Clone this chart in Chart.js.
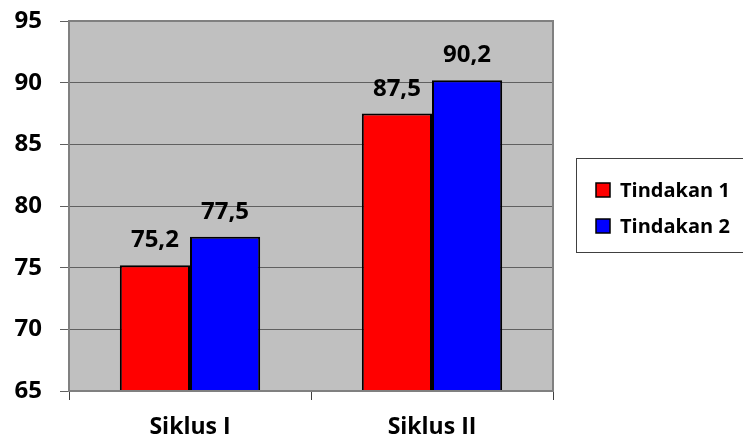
<!DOCTYPE html>
<html>
<head>
<meta charset="utf-8">
<script src="https://cdn.jsdelivr.net/npm/chart.js@4"></script>
<style>
  html, body { margin: 0; padding: 0; background: #fff; }
  #wrap { width: 743px; height: 441px; }
</style>
</head>
<body>
<div id="wrap"><canvas id="siklusChart"></canvas></div>
<script>
// data
const categories = ["Siklus I", "Siklus II"];
const tindakan1 = [75.2, 87.5];
const tindakan2 = [77.5, 90.2];
const seriesNames = ["Tindakan 1", "Tindakan 2"];
const seriesColors = ["#FF0000", "#0000FF"];
const yTicks = [65, 70, 75, 80, 85, 90, 95];

const fontFamily = "'Open Sans', sans-serif";

// gray plot area with border
const plotBackground = {
  id: "plotBackground",
  beforeDraw(chart) {
    const a = chart.chartArea, ctx = chart.ctx;
    ctx.save();
    ctx.fillStyle = "#C0C0C0";
    ctx.fillRect(a.left, a.top, a.right - a.left, a.bottom - a.top);
    ctx.restore();
  },
  afterDraw(chart) {
    const a = chart.ctx, area = chart.chartArea;
    a.save();
    a.strokeStyle = "#808080";
    a.lineWidth = 2;
    a.strokeRect(area.left, area.top, area.right - area.left, area.bottom - area.top);
    a.restore();
  }
};

// values above each bar
const valueLabels = {
  id: "valueLabels",
  afterDraw(chart) {
    const ctx = chart.ctx;
    ctx.save();
    ctx.font = "bold 24px " + fontFamily;
    ctx.fillStyle = "#000";
    ctx.textAlign = "center";
    ctx.textBaseline = "alphabetic";
    chart.data.datasets.forEach((ds, i) => {
      chart.getDatasetMeta(i).data.forEach((bar, j) => {
        ctx.fillText(String(ds.data[j]).replace(".", ","), bar.x, bar.y - 18);
      });
    });
    ctx.restore();
  }
};

// boxed legend on the right
const boxLegend = {
  id: "boxLegend",
  afterDraw(chart) {
    const ctx = chart.ctx;
    const x = 576, y = 158, w = 175, h = 94;
    ctx.save();
    ctx.fillStyle = "#fff";
    ctx.fillRect(x, y, w, h);
    ctx.strokeStyle = "#404040";
    ctx.lineWidth = 1;
    ctx.strokeRect(x + 0.5, y + 0.5, w, h);
    ctx.font = "bold 20px " + fontFamily;
    ctx.textBaseline = "middle";
    seriesNames.forEach((name, i) => {
      const cy = y + 32 + i * 36;
      ctx.fillStyle = seriesColors[i];
      ctx.fillRect(596, cy - 7, 14, 14);
      ctx.strokeStyle = "#000";
      ctx.lineWidth = 1.5;
      ctx.strokeRect(596, cy - 7, 14, 14);
      ctx.fillStyle = "#000";
      ctx.fillText(name, 620, cy + 1);
    });
    ctx.restore();
  }
};

new Chart("siklusChart", {
  type: "bar",
  data: {
    labels: categories,
    datasets: [
      { label: seriesNames[0], data: tindakan1, backgroundColor: seriesColors[0], borderColor: "#000", borderWidth: 2 },
      { label: seriesNames[1], data: tindakan2, backgroundColor: seriesColors[1], borderColor: "#000", borderWidth: 2 }
    ]
  },
  options: {
    responsive: true,
    maintainAspectRatio: false,
    animation: false,
    datasets: { bar: { categoryPercentage: 0.58, barPercentage: 1 } },
    layout: { padding: { top: 0, right: 190, left: 0, bottom: 0 } },
    plugins: { legend: { display: false }, tooltip: { enabled: false } },
    scales: {
      x: {
        offset: true,
        afterFit(axis) { axis.height = 50; },
        grid: { drawOnChartArea: false, color: "#404040", tickLength: 9, offset: true },
        border: { color: "#404040", width: 1 },
        ticks: { color: "#000", font: { family: fontFamily, size: 23, weight: "bold" }, padding: 14 }
      },
      y: {
        min: yTicks[0],
        max: yTicks[yTicks.length - 1],
        afterFit(axis) { axis.width = 69; axis.paddingTop = 21; axis.paddingBottom = 0; },
        afterBuildTicks(axis) { axis.ticks = yTicks.map(v => ({ value: v })); },
        grid: { color: "#606060", lineWidth: 1, tickLength: 9 },
        border: { color: "#808080", width: 2 },
        ticks: { color: "#000", font: { family: fontFamily, size: 24, weight: "bold", lineHeight: 0.25 }, padding: 18 }
      }
    }
  },
  plugins: [plotBackground, valueLabels, boxLegend]
});
</script>
</body>
</html>
